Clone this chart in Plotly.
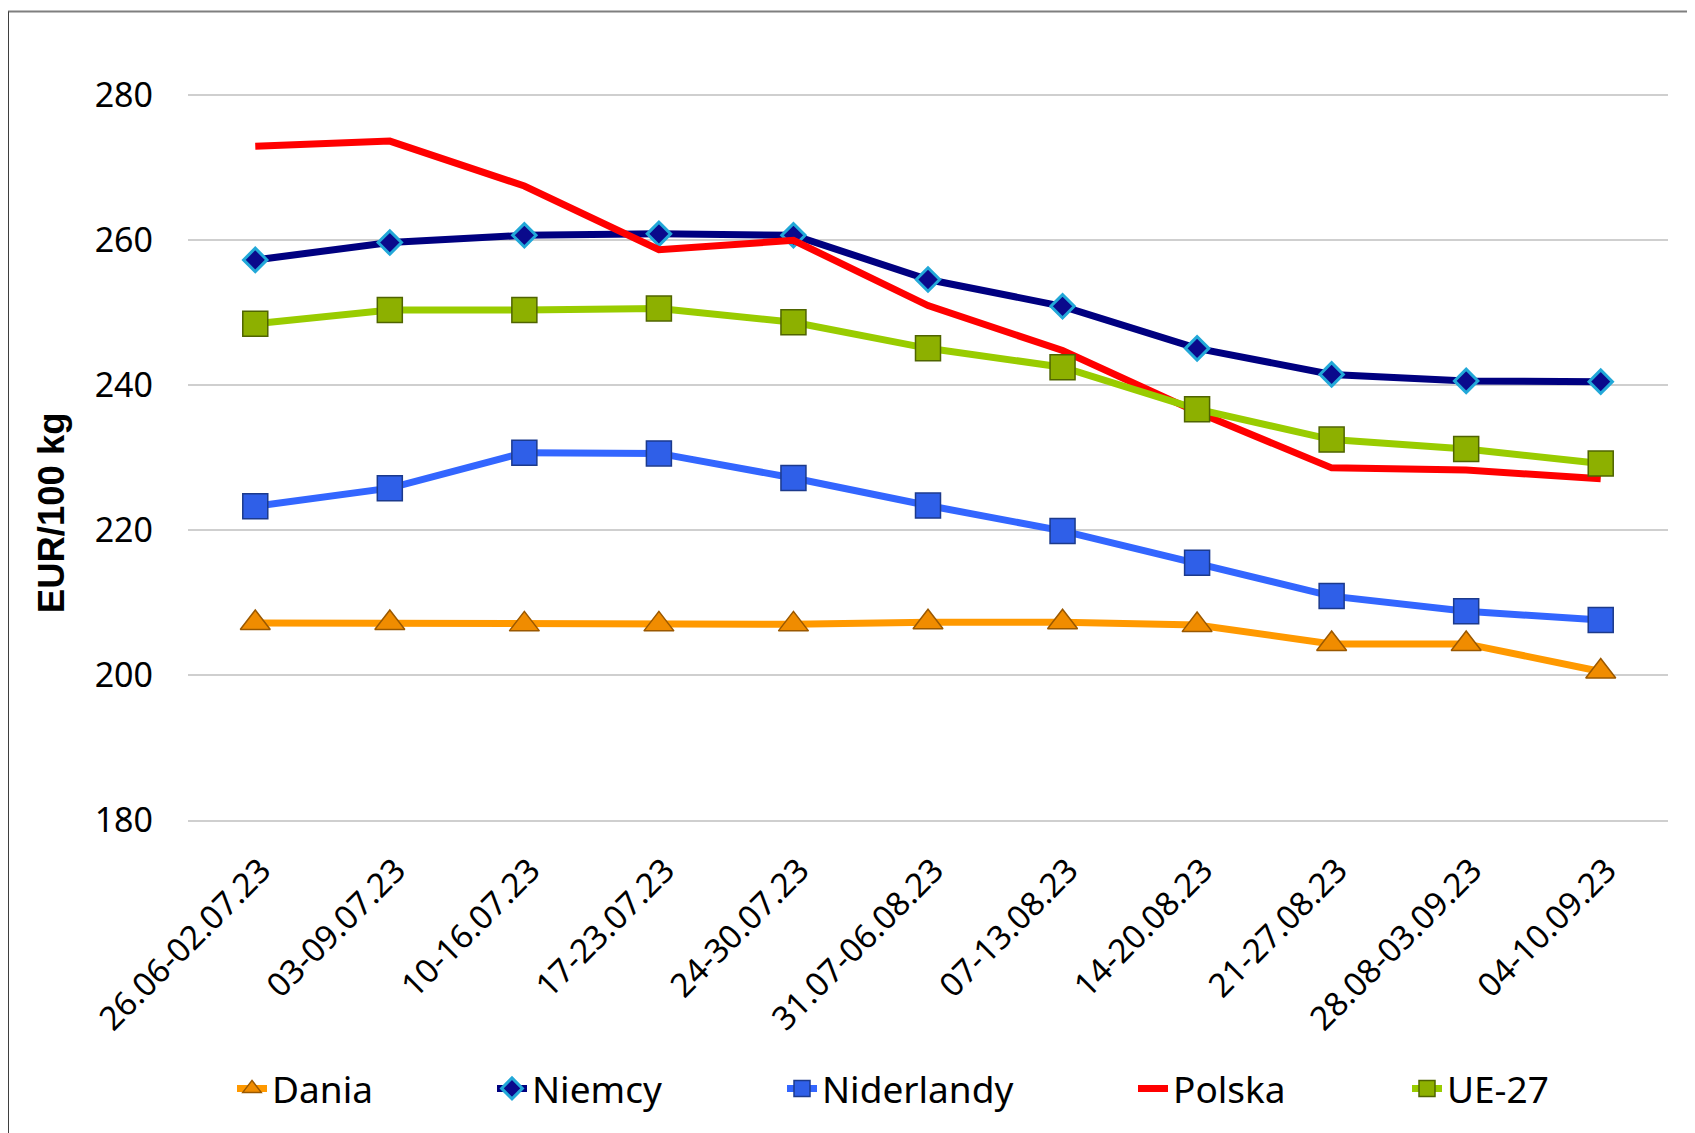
import plotly.graph_objects as go

weeks = ["26.06-02.07.23", "03-09.07.23", "10-16.07.23", "17-23.07.23", "24-30.07.23",
         "31.07-06.08.23", "07-13.08.23", "14-20.08.23", "21-27.08.23", "28.08-03.09.23",
         "04-10.09.23"]

dania = [207.2, 207.2, 207.0, 207.0, 207.0, 207.3, 207.3, 206.9, 204.3, 204.3, 200.5]
niemcy = [257.3, 259.7, 260.7, 260.9, 260.7, 254.6, 250.9, 245.1, 241.5, 240.6, 240.5]
niderlandy = [223.3, 225.8, 230.7, 230.6, 227.2, 223.4, 219.9, 215.5, 210.9, 208.8, 207.6]
polska = [273.0, 273.7, 267.5, 258.7, 260.0, 251.0, 244.8, 236.3, 228.6, 228.3, 227.1]
ue27 = [248.5, 250.4, 250.4, 250.6, 248.7, 245.1, 242.5, 236.7, 232.5, 231.2, 229.2]

yticks = [180, 200, 220, 240, 260, 280]

OFF = 8  # page body margin
W, H = 1687, 1125
L, R, T, B = 180, 27, 14.5, 313
PW, PH = W - L - R, H - T - B


def px_x(px):
    return (px - OFF - L) / PW


def px_y(py):
    return (H - B - (py - OFF)) / PH


series = [
    dict(name="Dania", y=dania, color="#FF9900", symbol="triangle-up", size=26,
         mcolor="#F08C00", mline="#9A5800", mlw=1.5),
    dict(name="Niemcy", y=niemcy, color="#000080", symbol="diamond", size=18,
         mcolor="#0A0A8C", mline="#22A8D8", mlw=3),
    dict(name="Niderlandy", y=niderlandy, color="#3366FF", symbol="square", size=25,
         mcolor="#2F5FE8", mline="#1C3A8C", mlw=1.5),
    dict(name="Polska", y=polska, color="#FF0000", symbol=None, size=0,
         mcolor=None, mline=None, mlw=0),
    dict(name="UE-27", y=ue27, color="#99CC00", symbol="square", size=25,
         mcolor="#8DB000", mline="#4F6400", mlw=1.5),
]

legend_x_px = [232, 492, 782, 1133, 1407]

fig = go.Figure()
for i, s in enumerate(series):
    lg = "legend" if i == 0 else f"legend{i + 1}"
    if s["symbol"]:
        fig.add_trace(go.Scatter(
            x=weeks, y=s["y"], name=s["name"], mode="lines+markers",
            line=dict(color=s["color"], width=7),
            marker=dict(symbol=s["symbol"], size=s["size"], color=s["mcolor"],
                        line=dict(color=s["mline"], width=s["mlw"])),
            legend=lg,
        ))
    else:
        fig.add_trace(go.Scatter(
            x=weeks, y=s["y"], name=s["name"], mode="lines",
            line=dict(color=s["color"], width=7),
            legend=lg,
        ))

leg_common = dict(orientation="h", yanchor="middle", y=px_y(1089), xanchor="left",
                  font=dict(family="Noto Sans", size=37, color="black"),
                  bgcolor="rgba(0,0,0,0)", borderwidth=0, itemwidth=30)
layout_legends = {}
for i, xp in enumerate(legend_x_px):
    key = "legend" if i == 0 else f"legend{i + 1}"
    layout_legends[key] = dict(leg_common, x=px_x(xp))

fig.update_layout(
    width=W, height=H,
    margin=dict(l=L, r=R, t=T, b=B, pad=0),
    paper_bgcolor="white", plot_bgcolor="white",
    showlegend=True,
    font=dict(family="Noto Sans", color="black"),
    xaxis=dict(type="category", tickangle=-45, showgrid=False, zeroline=False,
               showline=True, linecolor="#CFCFCF", linewidth=1.5,
               ticks="", tickfont=dict(family="Noto Sans", size=33, color="black"),
               ticklabelstandoff=16, ticklabelshift=6, range=[-0.5, 10.5]),
    yaxis=dict(range=[180, 290], tickvals=yticks, ticktext=[str(v) for v in yticks],
               showgrid=True, gridcolor="#CFCFCF", gridwidth=1.5, zeroline=False,
               showline=False, ticks="",
               tickfont=dict(family="Noto Sans", size=34, color="black"),
               ticklabelstandoff=34),
    annotations=[dict(text="<b>EUR/100 kg</b>", textangle=-90, xref="paper", yref="paper",
                      x=px_x(51), y=px_y(513), showarrow=False, xanchor="center",
                      yanchor="middle",
                      font=dict(family="Liberation Sans", size=36.5, color="black"))],
    shapes=[
        dict(type="line", xref="paper", yref="paper", x0=px_x(8), x1=px_x(1710),
             y0=px_y(11), y1=px_y(11), line=dict(color="#7F7F7F", width=2)),
        dict(type="line", xref="paper", yref="paper", x0=px_x(8), x1=px_x(8),
             y0=px_y(11), y1=px_y(1145), line=dict(color="#3F3F3F", width=2)),
    ],
    **layout_legends,
)

fig.write_html("out.html")
